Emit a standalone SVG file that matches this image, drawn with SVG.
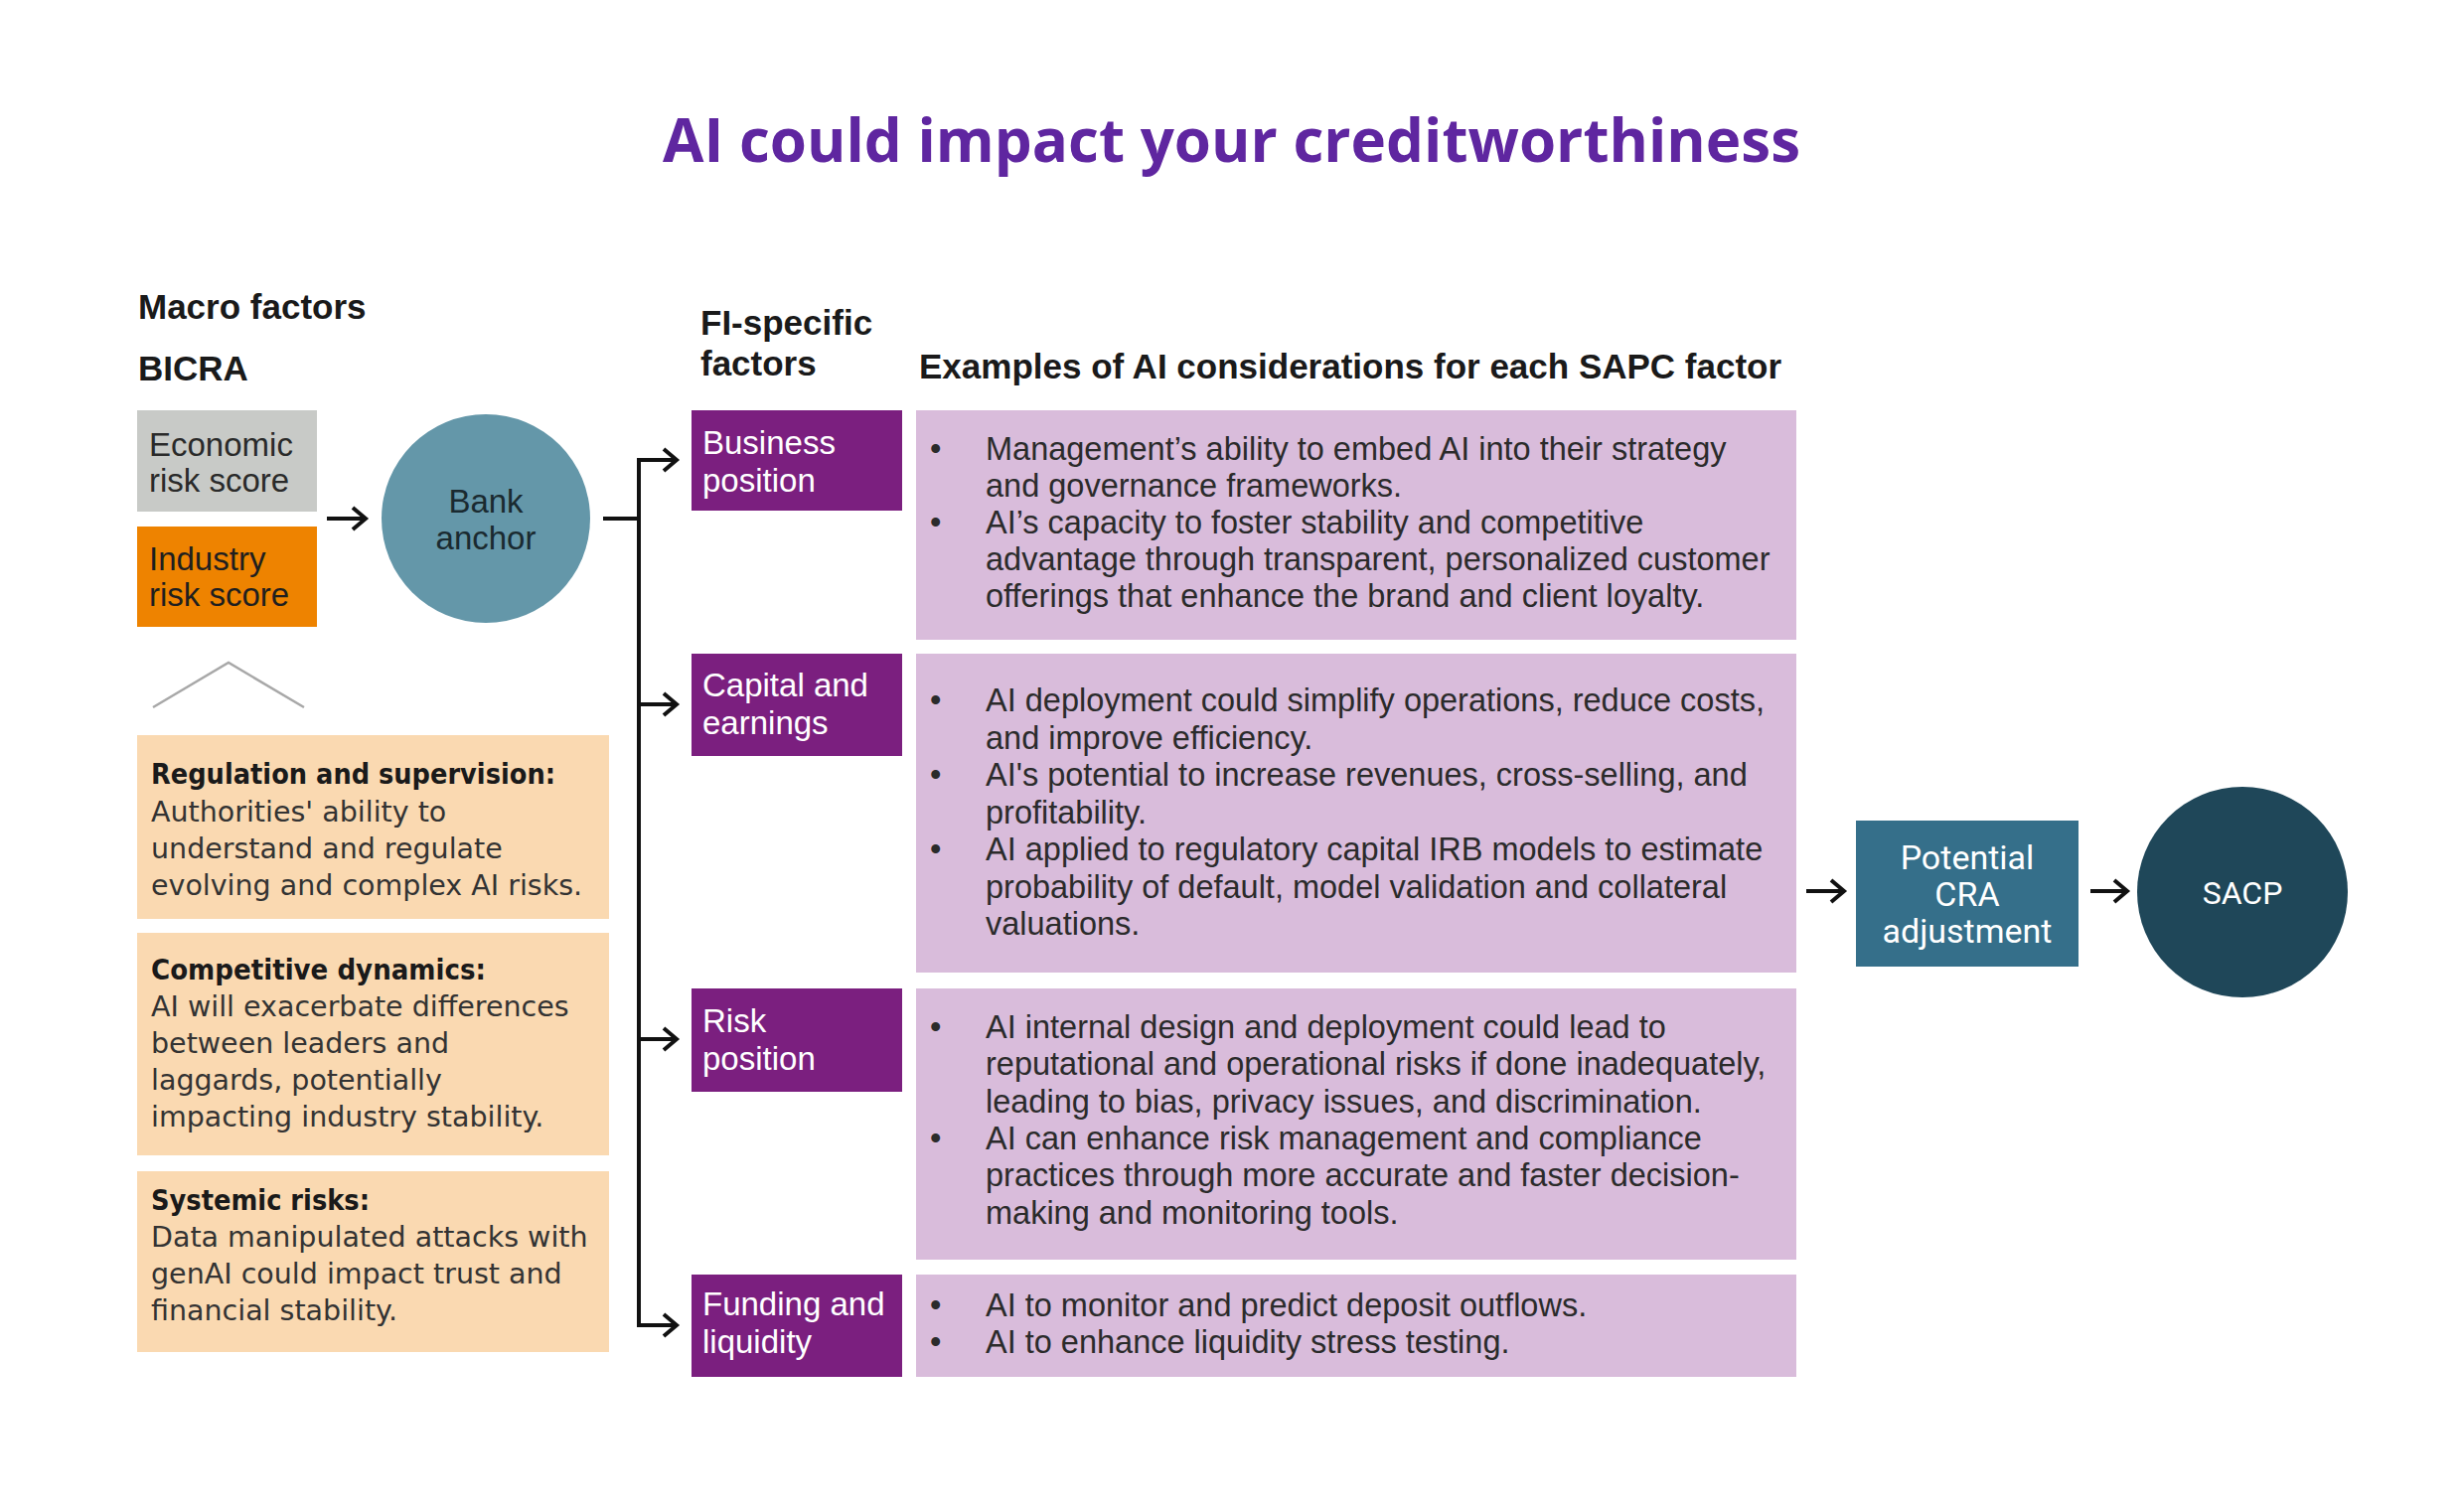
<svg xmlns="http://www.w3.org/2000/svg" width="2480" height="1519" viewBox="0 0 2480 1519">
<defs>
<style>
.title{font-family:"Open Sans","Noto Sans",sans-serif;font-weight:700;font-size:61px;fill:#5F26A0}
.h{font-family:"Liberation Sans",Arial,sans-serif;font-weight:700;font-size:35px;fill:#1a1a1a}
.lbl{font-family:"Liberation Sans",Arial,sans-serif;font-size:33px;fill:#ffffff}
.dark{font-family:"Liberation Sans",Arial,sans-serif;font-size:33px;fill:#2a2a2a}
.body{font-family:"Liberation Sans",Arial,sans-serif;font-size:32.5px;fill:#2b2b2b}
.pe{font-family:"DejaVu Sans",Verdana,sans-serif;font-size:28.5px;fill:#333333}
.peb{font-family:"DejaVu Sans",Verdana,sans-serif;font-size:28.5px;font-weight:700;fill:#1a1a1a}
.rob{font-family:Roboto,"Liberation Sans",sans-serif;font-size:34px;fill:#ffffff;text-anchor:middle}
.purple{fill:#7B1F7F}
.lav{fill:#D9BCDB}
.peach{fill:#FAD9B1}
.conn{fill:none;stroke:#111111;stroke-width:4}
</style>
<marker id="arr" viewBox="-16 -14 20 28" refX="0" refY="0" markerWidth="20" markerHeight="28" markerUnits="userSpaceOnUse" orient="auto">
<path d="M-13,-11 L0,0 L-13,11" fill="none" stroke="#111111" stroke-width="4"/>
</marker>
</defs>
<rect width="2480" height="1519" fill="#ffffff"/>

<text class="title" x="667" y="163" textLength="1145" lengthAdjust="spacingAndGlyphs">AI could impact your creditworthiness</text>

<g id="headings">
<text class="h" x="139" y="321">Macro factors</text>
<text class="h" x="139" y="383">BICRA</text>
<text class="h" x="705" y="337">FI-specific</text>
<text class="h" x="705" y="378">factors</text>
<text class="h" x="925" y="381">Examples of AI considerations for each SAPC factor</text>
</g>

<g id="economic-risk">
<rect x="138" y="413" width="181" height="102" fill="#C8CAC7"/>
<text class="dark" x="150" y="459">Economic</text>
<text class="dark" x="150" y="495">risk score</text>
</g>
<g id="industry-risk">
<rect x="138" y="530" width="181" height="101" fill="#EE8300"/>
<text class="dark" x="150" y="574" style="fill:#1f1f1f">Industry</text>
<text class="dark" x="150" y="610" style="fill:#1f1f1f">risk score</text>
</g>
<g id="bank-anchor">
<circle cx="489" cy="522" r="105" fill="#6497A9"/>
<text class="dark" x="489" y="516" text-anchor="middle" style="fill:#1a2a30">Bank</text>
<text class="dark" x="489" y="553" text-anchor="middle" style="fill:#1a2a30">anchor</text>
</g>

<g id="chevron">
<polyline points="154,712 230,667 306,712" fill="none" stroke="#A8A8A8" stroke-width="2.5"/>
</g>

<g id="regulation">
<rect class="peach" x="138" y="740" width="475" height="185"/>
<text class="peb" x="152" y="789" textLength="407" lengthAdjust="spacingAndGlyphs">Regulation and supervision:</text>
<text class="pe" x="152" y="827">Authorities' ability to</text>
<text class="pe" x="152" y="864">understand and regulate</text>
<text class="pe" x="152" y="901">evolving and complex AI risks.</text>
</g>
<g id="competitive">
<rect class="peach" x="138" y="939" width="475" height="224"/>
<text class="peb" x="152" y="986" textLength="337" lengthAdjust="spacingAndGlyphs">Competitive dynamics:</text>
<text class="pe" x="152" y="1023">AI will exacerbate differences</text>
<text class="pe" x="152" y="1060">between leaders and</text>
<text class="pe" x="152" y="1097">laggards, potentially</text>
<text class="pe" x="152" y="1134">impacting industry stability.</text>
</g>
<g id="systemic">
<rect class="peach" x="138" y="1179" width="475" height="182"/>
<text class="peb" x="152" y="1218" textLength="220" lengthAdjust="spacingAndGlyphs">Systemic risks:</text>
<text class="pe" x="152" y="1255">Data manipulated attacks with</text>
<text class="pe" x="152" y="1292">genAI could impact trust and</text>
<text class="pe" x="152" y="1329">financial stability.</text>
</g>

<g id="business-position">
<rect class="purple" x="696" y="413" width="212" height="101"/>
<text class="lbl" x="707" y="457">Business</text>
<text class="lbl" x="707" y="495">position</text>
</g>
<g id="business-examples">
<rect class="lav" x="922" y="413" width="886" height="231"/>
<text class="body" x="936" y="463">•</text>
<text class="body" x="992" y="463">Management’s ability to embed AI into their strategy</text>
<text class="body" x="992" y="500">and governance frameworks.</text>
<text class="body" x="936" y="537">•</text>
<text class="body" x="992" y="537">AI’s capacity to foster stability and competitive</text>
<text class="body" x="992" y="574">advantage through transparent, personalized customer</text>
<text class="body" x="992" y="611">offerings that enhance the brand and client loyalty.</text>
</g>

<g id="capital-earnings">
<rect class="purple" x="696" y="658" width="212" height="103"/>
<text class="lbl" x="707" y="701">Capital and</text>
<text class="lbl" x="707" y="739">earnings</text>
</g>
<g id="capital-examples">
<rect class="lav" x="922" y="658" width="886" height="321"/>
<text class="body" x="936" y="716">•</text>
<text class="body" x="992" y="716">AI deployment could simplify operations, reduce costs,</text>
<text class="body" x="992" y="753.5">and improve efficiency.</text>
<text class="body" x="936" y="791">•</text>
<text class="body" x="992" y="791">AI's potential to increase revenues, cross-selling, and</text>
<text class="body" x="992" y="828.5">profitability.</text>
<text class="body" x="936" y="866">•</text>
<text class="body" x="992" y="866">AI applied to regulatory capital IRB models to estimate</text>
<text class="body" x="992" y="903.5">probability of default, model validation and collateral</text>
<text class="body" x="992" y="941">valuations.</text>
</g>

<g id="risk-position">
<rect class="purple" x="696" y="995" width="212" height="104"/>
<text class="lbl" x="707" y="1039">Risk</text>
<text class="lbl" x="707" y="1077">position</text>
</g>
<g id="risk-examples">
<rect class="lav" x="922" y="995" width="886" height="273"/>
<text class="body" x="936" y="1045">•</text>
<text class="body" x="992" y="1045">AI internal design and deployment could lead to</text>
<text class="body" x="992" y="1082">reputational and operational risks if done inadequately,</text>
<text class="body" x="992" y="1120">leading to bias, privacy issues, and discrimination.</text>
<text class="body" x="936" y="1157">•</text>
<text class="body" x="992" y="1157">AI can enhance risk management and compliance</text>
<text class="body" x="992" y="1194">practices through more accurate and faster decision-</text>
<text class="body" x="992" y="1232">making and monitoring tools.</text>
</g>

<g id="funding-liquidity">
<rect class="purple" x="696" y="1283" width="212" height="103"/>
<text class="lbl" x="707" y="1324">Funding and</text>
<text class="lbl" x="707" y="1362">liquidity</text>
</g>
<g id="funding-examples">
<rect class="lav" x="922" y="1283" width="886" height="103"/>
<text class="body" x="936" y="1325">•</text>
<text class="body" x="992" y="1325">AI to monitor and predict deposit outflows.</text>
<text class="body" x="936" y="1362">•</text>
<text class="body" x="992" y="1362">AI to enhance liquidity stress testing.</text>
</g>

<g id="cra-adjustment">
<rect x="1868" y="826" width="224" height="147" fill="#356F8A"/>
<text class="rob" x="1980" y="875">Potential</text>
<text class="rob" x="1980" y="912">CRA</text>
<text class="rob" x="1980" y="949">adjustment</text>
</g>
<g id="sacp">
<circle cx="2257" cy="898" r="106" fill="#1F4759"/>
<text class="rob" x="2257" y="910" style="font-size:32px">SACP</text>
</g>

<g id="connectors">
<path class="conn" d="M329,522 H368" marker-end="url(#arr)"/>
<path class="conn" d="M607,522 H643"/>
<path class="conn" d="M643,600 V463 H681" marker-end="url(#arr)"/>
<path class="conn" d="M643,600 V1334 H681" marker-end="url(#arr)"/>
<path class="conn" d="M643,709 H681" marker-end="url(#arr)"/>
<path class="conn" d="M643,1046 H681" marker-end="url(#arr)"/>
<path class="conn" d="M1818,897 H1856" marker-end="url(#arr)"/>
<path class="conn" d="M2104,897 H2141" marker-end="url(#arr)"/>
</g>
</svg>
